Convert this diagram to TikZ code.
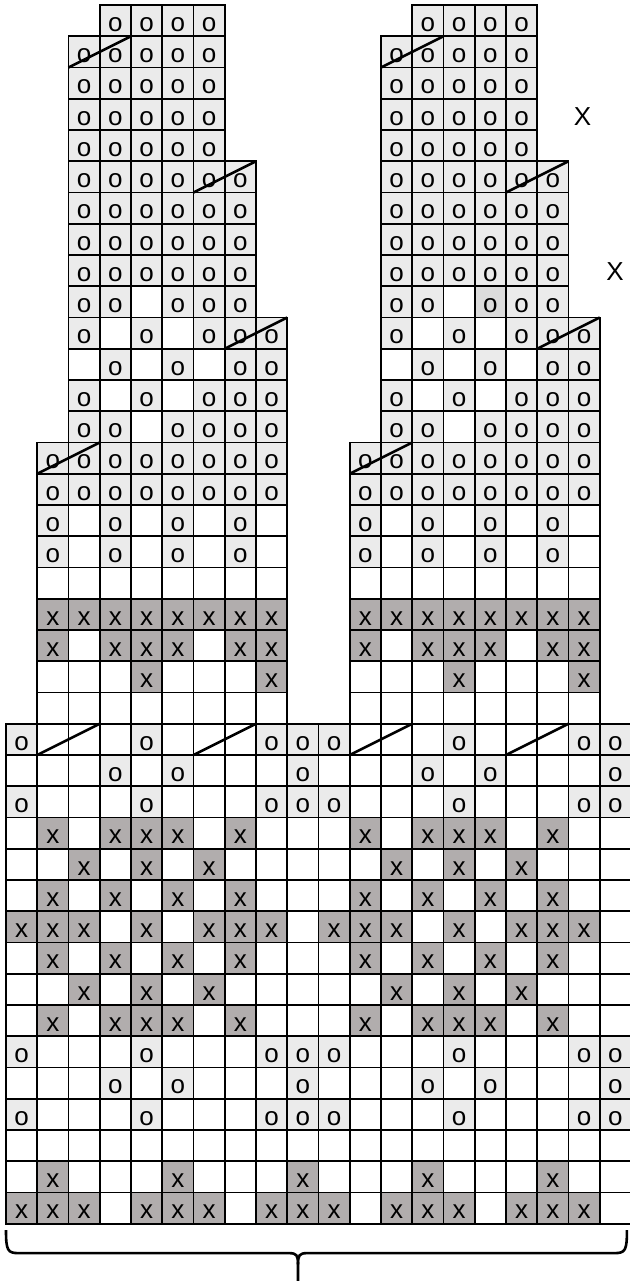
\documentclass[tikz,border=0pt]{standalone}
\usepackage{fontspec}
\setmainfont{Liberation Sans}
\usepackage{tikz}
\definecolor{stlight}{RGB}{235,235,235}
\definecolor{stmid}{RGB}{220,220,220}
\definecolor{stdark}{RGB}{177,173,173}

\newcommand{\knito}{o}
\newcommand{\knitd}{o}
\newcommand{\knitx}{x}
\newcommand{\knitn}{}
% one chart row: row number, first column, cell list
\newcommand{\chartrow}[3]{%
  \pgfmathtruncatemacro{\firstcol}{#2}%
  \foreach \s [count=\c from \firstcol] in {#3}
    \node[cell, st\s] (c-#1-\c) at (\c-0.5,0.5-#1) {\csname knit\s\endcsname};%
}

\begin{document}
\begin{tikzpicture}[
  x=15.625pt, y=15.625pt,
  font=\fontsize{13}{15}\selectfont,
  cell/.style={rectangle, draw=black, line width=0.9pt, minimum size=15.625pt, inner sep=0pt, outer sep=0pt, text height=10.8pt, text depth=0pt},
  sto/.style={fill=stlight},
  std/.style={fill=stmid},
  stx/.style={fill=stdark},
  stn/.style={fill=white},
  slash/.style={line width=1.3pt},
  brace/.style={line width=1.3pt}
]
\useasboundingbox (-0.192,0.16) rectangle (19.936,-40.832);

% the two upper panels
\foreach \off in {0,10} {
  \chartrow{1}{4+\off}{o,o,o,o}
  \foreach \r in {2,...,5} {\chartrow{\r}{3+\off}{o,o,o,o,o}}
  \foreach \r in {6,...,9} {\chartrow{\r}{3+\off}{o,o,o,o,o,o}}
  \chartrow{11}{3+\off}{o,n,o,n,o,o,o}
  \chartrow{12}{3+\off}{n,o,n,o,n,o,o}
  \chartrow{13}{3+\off}{o,n,o,n,o,o,o}
  \chartrow{14}{3+\off}{o,o,n,o,o,o,o}
  \chartrow{15}{2+\off}{o,o,o,o,o,o,o,o}
  \chartrow{16}{2+\off}{o,o,o,o,o,o,o,o}
  \chartrow{17}{2+\off}{o,n,o,n,o,n,o,n}
  \chartrow{18}{2+\off}{o,n,o,n,o,n,o,n}
  \chartrow{19}{2+\off}{n,n,n,n,n,n,n,n}
  \chartrow{20}{2+\off}{x,x,x,x,x,x,x,x}
  \chartrow{21}{2+\off}{x,n,x,x,x,n,x,x}
  \chartrow{22}{2+\off}{n,n,n,x,n,n,n,x}
  \chartrow{23}{2+\off}{n,n,n,n,n,n,n,n}
}
\chartrow{10}{3}{o,o,n,o,o,o}
\chartrow{10}{13}{o,o,n,d,o,o}

% lower band, repeats every 10 stitches
\foreach \off in {0,10} {
  \chartrow{24}{1+\off}{o,n,n,n,o,n,n,n,o,o}
  \chartrow{25}{1+\off}{n,n,n,o,n,o,n,n,n,o}
  \chartrow{26}{1+\off}{o,n,n,n,o,n,n,n,o,o}
  \chartrow{27}{1+\off}{n,x,n,x,x,x,n,x,n,n}
  \chartrow{28}{1+\off}{n,n,x,n,x,n,x,n,n,n}
  \chartrow{29}{1+\off}{n,x,n,x,n,x,n,x,n,n}
  \chartrow{30}{1+\off}{x,x,x,n,x,n,x,x,x,n}
  \chartrow{31}{1+\off}{n,x,n,x,n,x,n,x,n,n}
  \chartrow{32}{1+\off}{n,n,x,n,x,n,x,n,n,n}
  \chartrow{33}{1+\off}{n,x,n,x,x,x,n,x,n,n}
  \chartrow{34}{1+\off}{o,n,n,n,o,n,n,n,o,o}
  \chartrow{35}{1+\off}{n,n,n,o,n,o,n,n,n,o}
  \chartrow{36}{1+\off}{o,n,n,n,o,n,n,n,o,o}
  \chartrow{37}{1+\off}{n,n,n,n,n,n,n,n,n,n}
}
\chartrow{38}{1}{n,x,n,n,n,x,n,n,n,x,n,n,n,x,n,n,n,x,n,n}
\chartrow{39}{1}{x,x,x,n,x,x,x,n,x,x,x,n,x,x,x,n,x,x,x,n}

% decreases
\foreach \r/\a/\b in {2/3/4, 6/7/8, 11/8/9, 15/2/3, 24/2/3, 24/7/8,
                      2/13/14, 6/17/18, 11/18/19, 15/12/13, 24/12/13, 24/17/18}
  \draw[slash] (c-\r-\a.south west) -- (c-\r-\b.north east);

\node (markA) at (18.45,-3.574) {X};
\node (markB) at (19.49,-8.54) {X};

% brace under the chart
\coordinate (braceL) at (0,-39.2);
\coordinate (braceR) at (19.87,-39.2);
\coordinate (braceM) at (9.344,-40.3);
\coordinate (braceTip) at (9.344,-40.96);
\draw[brace] (braceL) .. controls (0,-39.85) and (0.05,-39.94) .. (0.4,-39.94)
  -- (9.05,-39.94) .. controls (9.3,-39.94) and (9.344,-40.0) .. (braceM) -- (braceTip);
\draw[brace] (braceM) .. controls (9.344,-40.0) and (9.39,-39.94) .. (9.64,-39.94)
  -- (19.47,-39.94) .. controls (19.82,-39.94) and (19.87,-39.85) .. (braceR);
\end{tikzpicture}
\end{document}
